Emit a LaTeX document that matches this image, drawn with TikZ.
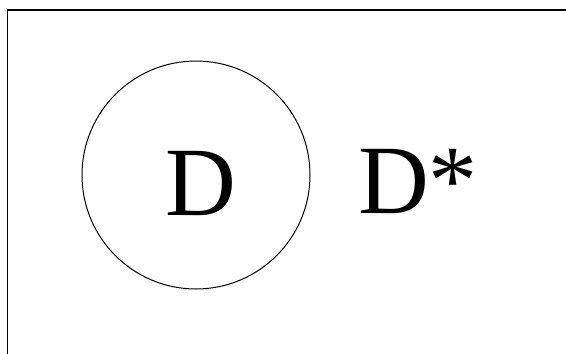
\documentclass[tikz,border=0pt]{standalone}
\usepackage{fontspec}
\setmainfont{Liberation Serif}
\begin{document}
\begin{tikzpicture}[
    x=1pt, y=-1pt,
    frame/.style={draw, line width=1.5pt},
    region/.style={circle, draw, line width=1pt, minimum size=228pt, inner sep=0pt},
    setlabel/.style={anchor=base west, inner sep=0pt, font=\fontsize{98}{98}\selectfont},
]
\useasboundingbox (0,0) rectangle (566,354);
\draw[frame] (7.5,354) -- (7.5,10) -- (566,10);
\node[region] (dset) at (196,175) {};
\node[setlabel] (dname) at (165,215) {D};
\node[setlabel] (dstar) at (358,213) {D*};
\end{tikzpicture}
\end{document}
